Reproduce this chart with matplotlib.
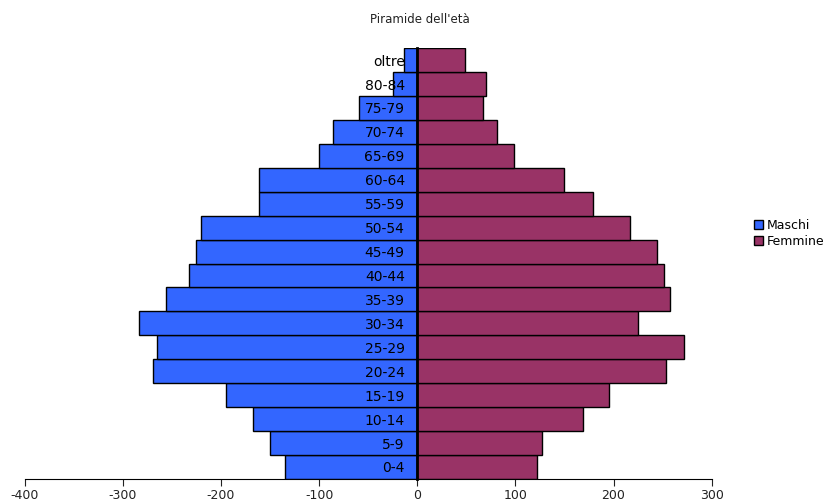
import numpy as np
import matplotlib
matplotlib.use('Agg')
import matplotlib.pyplot as plt

plt.rcParams['axes.unicode_minus'] = False

# age classes, bottom to top
eta = ['0-4', '5-9', '10-14', '15-19', '20-24', '25-29', '30-34', '35-39',
       '40-44', '45-49', '50-54', '55-59', '60-64', '65-69', '70-74',
       '75-79', '80-84', 'oltre']
maschi = [135, 150, 167, 195, 269, 265, 283, 256, 233, 225, 220, 161, 161,
          100, 86, 59, 25, 14]
femmine = [122, 127, 169, 195, 253, 272, 225, 258, 251, 244, 217, 179, 150,
           99, 81, 67, 70, 49]

blu = '#3366FF'
viola = '#993366'

fig = plt.figure(figsize=(8.36, 5.01), dpi=100)
ax = fig.add_axes([0.0295, 0.044, 0.8218, 0.860])

ind = np.arange(len(eta))
b1 = ax.barh(ind, -np.array(maschi), height=1.0, color=blu,
             edgecolor='black', linewidth=1.0, label='Maschi')
b2 = ax.barh(ind, femmine, height=1.0, color=viola,
             edgecolor='black', linewidth=1.0, label='Femmine')

ax.set_xlim(-400, 300)
ax.set_ylim(-0.5, len(eta) - 0.5)
ax.set_xticks(np.arange(-400, 301, 100))
ax.set_yticks(ind)
ax.set_yticklabels(eta, fontsize=9, color='#222222')

ax.spines['top'].set_visible(False)
ax.spines['right'].set_visible(False)
ax.spines['left'].set_position(('data', 0))
ax.spines['left'].set_linewidth(2.0)
ax.spines['left'].set_zorder(5)
ax.tick_params(axis='y', length=0, pad=9)
ax.tick_params(axis='x', length=5, direction='out', labelsize=9, pad=2,
               colors='#222222')

fig.text(0.502, 0.962, "Piramide dell'età", ha='center', va='center',
         fontsize=8.5, color='#222222')

fig.legend(handles=[b1, b2], labels=['Maschi', 'Femmine'], loc='upper left',
           bbox_to_anchor=(0.895, 0.575), frameon=False, fontsize=9,
           handlelength=0.7, handleheight=0.7, handletextpad=0.3,
           labelspacing=0.2, borderpad=0)

fig.savefig('out.png', dpi=100)
